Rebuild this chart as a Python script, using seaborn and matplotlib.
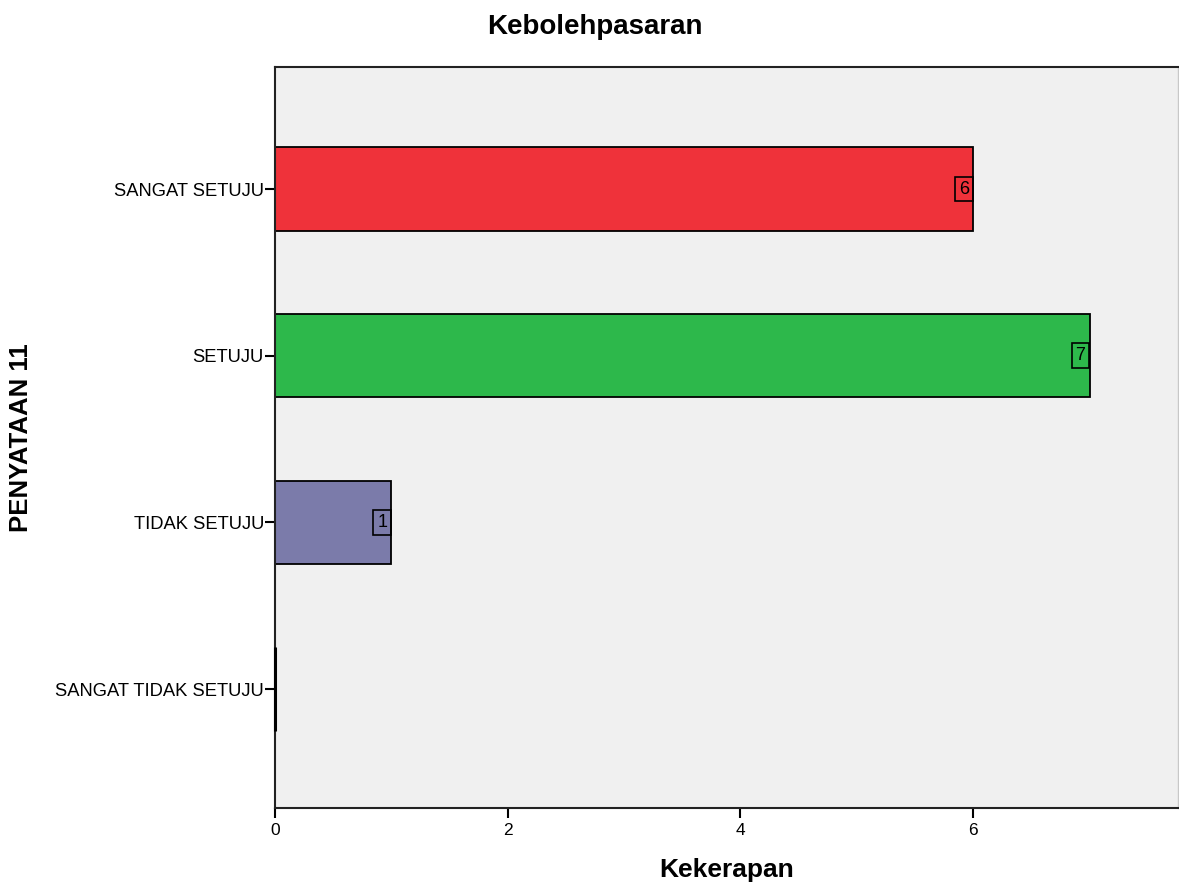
import matplotlib
matplotlib.use("Agg")
import matplotlib.pyplot as plt
import seaborn as sns
import pandas as pd

categories = ["SANGAT SETUJU", "SETUJU", "TIDAK SETUJU", "SANGAT TIDAK SETUJU"]
counts = [6, 7, 1, 0]
colors = ["#EF323A", "#2DB84B", "#7B7BAA", "#333333"]
x_ticks = [0, 2, 4, 6]

title = "Kebolehpasaran"
xlabel = "Kekerapan"
ylabel = "PENYATAAN 11"

sns.set_theme(style="white")
plt.rcParams["font.family"] = ["Liberation Sans", "DejaVu Sans"]
plt.rcParams["text.color"] = "black"
plt.rcParams["axes.labelcolor"] = "black"
plt.rcParams["xtick.color"] = "black"
plt.rcParams["ytick.color"] = "black"

df = pd.DataFrame({"cat": categories, "n": counts})

fig = plt.figure(figsize=(11.79, 8.92), dpi=100)
ax = fig.add_axes([275 / 1179, 1 - 808 / 892, (1178 - 275) / 1179, (808 - 67) / 892])
ax.set_facecolor("#F0F0F0")

sns.barplot(data=df, x="n", y="cat", hue="cat", order=categories, hue_order=categories,
            palette=colors, orient="h", width=0.5, edgecolor="black", linewidth=1.3,
            saturation=1, legend=False, ax=ax)

for p, v in zip(ax.patches, counts):
    p.set_clip_on(False)
    if v == 0:
        p.set_linewidth(2.2)
        p.set_zorder(5)

for i, v in enumerate(counts):
    if v > 0:
        ax.annotate(str(v), xy=(v, i), xytext=(-3, 0), textcoords="offset points",
                    ha="right", va="center", fontsize=13, color="black",
                    bbox=dict(boxstyle="square,pad=0.22", facecolor="none",
                              edgecolor="black", linewidth=1.2))

ax.set_xlim(0, 7.76)
ax.set_ylim(3.714, -0.732)
ax.set_xticks(x_ticks)
ax.set_xticklabels([str(t) for t in x_ticks], fontsize=12.5)
ax.tick_params(axis="y", labelsize=13.2, length=7, width=1.5, direction="out", left=True, pad=1)
ax.tick_params(axis="x", length=7, width=1.5, direction="out", bottom=True, pad=4)

for s in ["left", "bottom", "top"]:
    ax.spines[s].set_color("#222222")
    ax.spines[s].set_linewidth(1.5)
ax.spines["right"].set_color("#C8C8C8")
ax.spines["right"].set_linewidth(1.0)

ax.set_xlabel(xlabel, fontsize=19, fontweight="bold", labelpad=14)
ax.set_ylabel(ylabel, fontsize=18.5, fontweight="bold", labelpad=16)
fig.text(595 / 1179, 1 - 27 / 892, title, ha="center", va="center", fontsize=20, fontweight="bold")

fig.savefig("out.png", dpi=100, facecolor="white")
